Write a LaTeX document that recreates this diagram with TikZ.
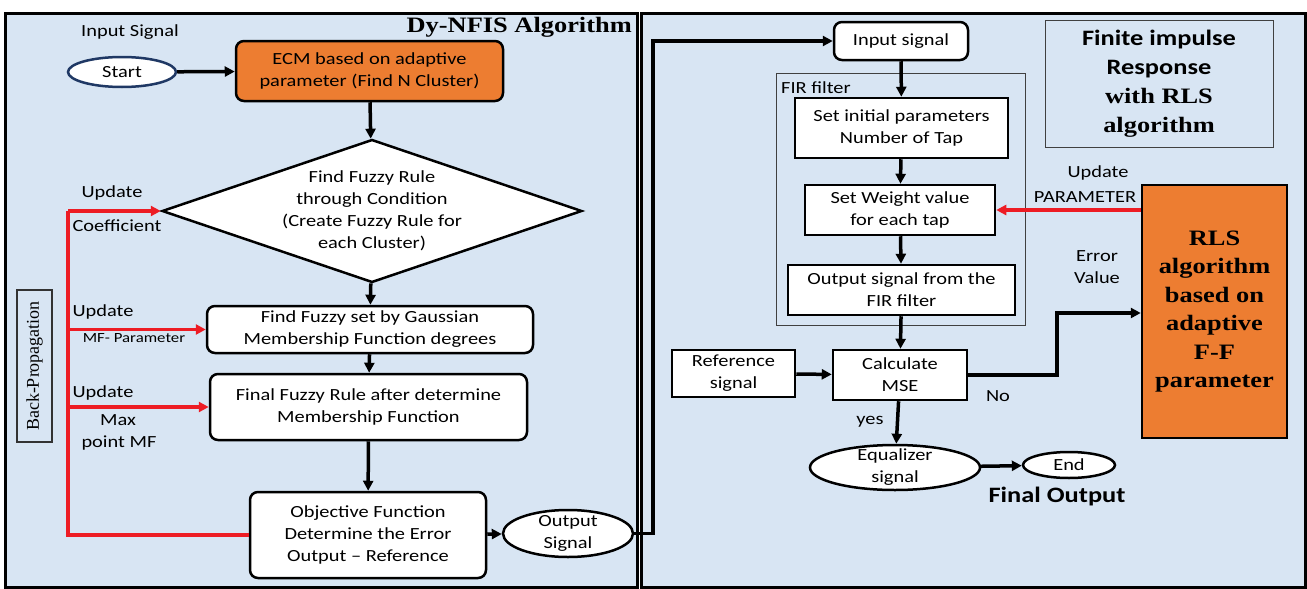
\documentclass[tikz,border=0pt]{standalone}
\usepackage{fontspec}
\setmainfont[FakeStretch=1.2]{Carlito}
\newfontfamily\tnr[FakeStretch=1.2]{Liberation Serif}
\newfontfamily\tnrplain{Liberation Serif}
\usetikzlibrary{arrows.meta,shapes.geometric}
\definecolor{bgblue}{RGB}{216,229,243}
\definecolor{orng}{RGB}{237,125,49}
\definecolor{redline}{RGB}{237,28,36}
\definecolor{navy}{RGB}{31,56,100}
\begin{document}
\begin{tikzpicture}[x=1pt,y=-1pt,
  every node/.style={font=\fontsize{17}{22}\selectfont, text=black},
  panel/.style={draw=black, line width=3pt, fill=bgblue, inner sep=0pt},
  box/.style={draw=black, line width=2.5pt, fill=white, align=center, inner sep=0pt},
  rbox/.style={box, rounded corners=8pt},
  oval/.style={ellipse, draw=black, line width=2.5pt, fill=white, inner sep=0pt, align=center},
  thinbox/.style={draw=black!75, line width=1pt, inner sep=0pt, align=center},
  conn/.style={draw=black, line width=3.5pt, -{Triangle[length=10pt,width=10pt]}},
  redarr/.style={draw=redline, line width=3.5pt, -{Triangle[length=10pt,width=10pt]}},
  redln/.style={draw=redline, line width=3.5pt},
  lbl/.style={align=center, inner sep=0pt},
]
\useasboundingbox (0,0) rectangle (1307,589);
% panels
\node[panel, minimum width=632pt, minimum height=574pt] (lpanel) at (321,300) {};
\node[panel, minimum width=664pt, minimum height=574pt] (rpanel) at (973,300) {};

% ---------- left panel ----------
\node[lbl, anchor=east, font=\tnr\bfseries\fontsize{22}{26}\selectfont] (title) at (632,27) {Dy-NFIS Algorithm};
\node[lbl] (inlabel) at (130,32) {Input Signal};
\node[oval, draw=navy, minimum width=108pt, minimum height=30pt] (start) at (122,72) {Start};
\node[rbox, fill=orng, minimum width=267pt, minimum height=60pt] (ecm) at (369.5,71) {ECM based on adaptive\\parameter (Find N Cluster)};
\node[diamond, draw=black, line width=2.5pt, fill=white, minimum width=420pt, minimum height=143pt, inner sep=0pt] (rule) at (372,211) {};
\node[lbl] (ruletxt) at (rule) {Find Fuzzy Rule\\through Condition\\(Create Fuzzy Rule for\\each Cluster)};
\node[rbox, minimum width=326pt, minimum height=47pt] (fset) at (370,329.5) {Find Fuzzy set by Gaussian\\Membership Function degrees};
\node[rbox, minimum width=317pt, minimum height=66pt] (frule) at (368.5,407) {Final Fuzzy Rule after determine\\Membership Function};
\node[rbox, minimum width=236pt, minimum height=86pt] (obj) at (368,535) {Objective Function\\Determine the Error\\Output – Reference};
\node[oval, minimum width=130pt, minimum height=47pt] (outsig) at (568,533.5) {};
\node[lbl] (outsigtxt) at (outsig) {Output\\Signal};
\node[draw=black!80, line width=1.2pt, rotate=90, minimum width=152pt, minimum height=35pt, inner sep=0pt, font=\tnrplain\fontsize{18}{20}\selectfont] (bp) at (34.5,366) {Back-Propagation};

\draw[conn] (start) -- (ecm);
\draw[conn] (ecm) -- (rule);
\draw[conn] (rule) -- (fset);
\draw[conn] (fset) -- (frule);
\draw[conn] (frule) -- (obj);
\draw[conn] (obj) -- (outsig);

\coordinate (rtop) at (68,211);
\draw[redln] (obj.west) -| (rtop);
\draw[redarr] (rtop) -- (rule.west);
\draw[redarr] (fset.west -| rtop) -- (fset.west);
\draw[redarr] (frule.west -| rtop) -- (frule.west);

\node[lbl] (u1) at (112,193) {Update};
\node[lbl] (c1) at (117,226) {Coefficient};
\node[lbl] (u2) at (103,312) {Update};
\node[lbl, font=\fontsize{14}{16}\selectfont] (mfp) at (134,338) {MF- Parameter};
\node[lbl] (u3) at (103,393) {Update};
\node[lbl] (mx) at (118,420) {Max};
\node[lbl] (pmf) at (119,443) {point MF};

% ---------- right panel ----------
\node[rbox, minimum width=134pt, minimum height=38pt] (insig) at (901,41) {Input signal};
\node[thinbox, minimum width=249pt, minimum height=252pt] (fir) at (900.5,199) {};
\node[lbl, anchor=west] (firlbl) at (781,88) {FIR filter};
\node[box, minimum width=213pt, minimum height=60pt] (initp) at (901.5,128) {Set initial parameters\\Number of Tap};
\node[box, minimum width=190pt, minimum height=50pt] (wt) at (900,210) {Set Weight value\\for each tap};
\node[box, minimum width=227pt, minimum height=50pt] (fout) at (901.5,290) {Output signal from the\\FIR filter};
\node[box, minimum width=134pt, minimum height=50pt] (mse) at (900,375) {Calculate\\MSE};
\node[box, minimum width=123pt, minimum height=47pt] (ref) at (733.5,373.5) {Reference\\signal};
\node[oval, minimum width=170pt, minimum height=45pt] (eq) at (895,467.5) {};
\node[lbl] (eqtxt) at (eq) {Equalizer\\signal};
\node[oval, minimum width=92pt, minimum height=26pt] (end) at (1069,465) {End};
\node[lbl, font=\bfseries\fontsize{22}{26}\selectfont] (finout) at (1057,497) {Final Output};
\node[lbl] (yes) at (870,422) {yes};
\node[lbl] (no) at (998,396) {No};
\node[box, fill=orng, minimum width=145pt, minimum height=253pt, font=\tnr\bfseries\fontsize{22}{28.5}\selectfont] (rls) at (1214.5,311.5) {RLS\\algorithm\\based on\\adaptive\\F-F\\parameter};
\node[thinbox, minimum width=228pt, minimum height=127pt, font=\bfseries\fontsize{22}{29}\selectfont] (fin) at (1159,83.5) {Finite impulse\\Response\\{\tnr with RLS}\\{\tnr algorithm}};
\node[lbl] (upd) at (1098,173) {Update};
\node[lbl] (param) at (1085,197) {PARAMETER};
\node[lbl] (err) at (1097,256) {Error};
\node[lbl] (val) at (1097,278) {Value};

\coordinate (jog) at (653,41);
\draw[conn] (outsig.east) -| (jog) -- (insig.west);
\draw[conn] (insig) -- (initp);
\draw[conn] (initp) -- (wt);
\draw[conn] (wt) -- (fout);
\draw[conn] (fout) -- (mse);
\draw[conn] (ref) -- (mse);
\draw[conn] (mse) -- (eq);
\draw[conn] (eq) -- (end);
\coordinate (elbow) at (1057,313);
\draw[conn] (mse.east) -| (elbow) -- (rls.west |- elbow);
\draw[redarr] (rls.west |- wt.east) -- (wt.east);
\end{tikzpicture}
\end{document}
